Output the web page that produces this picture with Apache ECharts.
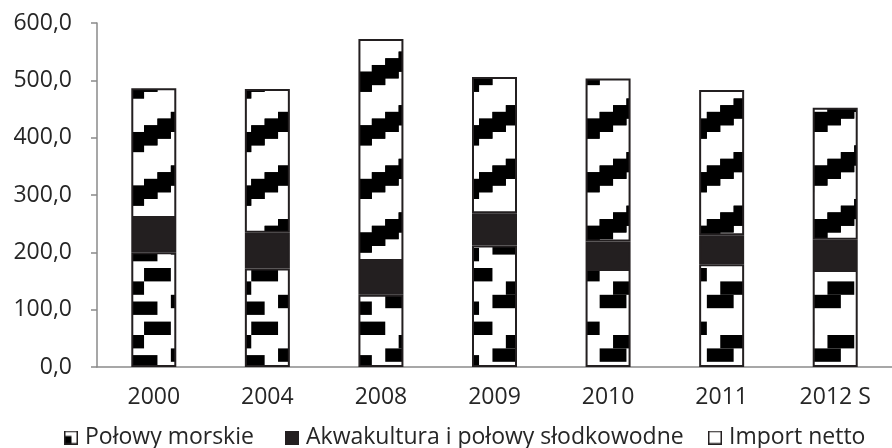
<!DOCTYPE html>
<html><head><meta charset="utf-8">
<script src="https://cdn.jsdelivr.net/npm/echarts@6/dist/echarts.min.js"></script>
<style>html,body{margin:0;padding:0;background:#fff}#c{width:892px;height:448px}</style>
</head><body><div id="c"></div>
<script>
const categories = ['2000','2004','2008','2009','2010','2011','2012 S'];
const polowyMorskie = [200, 172, 126, 212, 171, 179, 169];
const akwakultura = [60, 62, 59, 56, 48, 51, 53];
const importNetto = [226, 251, 387, 238, 284, 253, 230];
const yTickLabels = ['0,0','100,0','200,0','300,0','400,0','500,0','600,0'];
const seriesNames = ['Połowy morskie','Akwakultura i połowy słodkowodne','Import netto'];

const S = 6.7; // pattern pixel size
function makeTile(rects, ox, oy) {
  const c = document.createElement('canvas');
  c.width = 536; c.height = 536;
  const g = c.getContext('2d');
  g.fillStyle = '#fff'; g.fillRect(0,0,536,536);
  g.fillStyle = '#000';
  const TW = 16, TH = 8;
  for (let tx = -1; tx <= 5; tx++) {
    for (let ty = -1; ty <= 10; ty++) {
      rects.forEach(r => {
        g.fillRect((tx*TW + r[0] + ox)*S, (ty*TH + r[1] + oy)*S, r[2]*S, r[3]*S);
      });
    }
  }
  return c;
}
const brick = makeTile([[2,0,4,2],[-2,2,4,2],[8,2,4,2],[6,4,4,2],[0,5,4,2]], 3.5, 0);
const diagRects = [];
for (let k = 0; k < 8; k++) diagRects.push([6 - 2*k, k, 4, 2]);
const diag = makeTile(diagRects.concat(diagRects.map(r => [r[0]+16, r[1], r[2], r[3]])), 3.5, 0.7);

const border = '#231f20';
const axisColor = '#8a8a8a';
const font = '"Open Sans", sans-serif';
const textColor = '#262626';

function iconImage(kind) {
  const c = document.createElement('canvas');
  c.width = 28; c.height = 28;
  const g = c.getContext('2d');
  g.fillStyle = '#fff'; g.fillRect(0,0,28,28);
  if (kind === 1) { g.fillStyle = border; g.fillRect(0,0,28,28); }
  if (kind === 0) { g.fillStyle = '#000'; g.fillRect(2,11,13,15); }
  g.strokeStyle = border; g.lineWidth = 3;
  g.strokeRect(1.5,1.5,25,25);
  return 'image://' + c.toDataURL();
}

const legendLefts = [59, 280, 703];
const legends = seriesNames.map((n, i) => ({
  left: legendLefts[i], top: 421, itemWidth: 14, itemHeight: 14,
  icon: iconImage(i),
  textStyle: {fontFamily: font, fontSize: 23, color: textColor, padding: [0,0,0,2]},
  data: [n]
}));

const chart = echarts.init(document.getElementById('c'), null, {renderer:'canvas'});
chart.setOption({
  animation: false,
  backgroundColor: '#fff',
  grid: {left: 97, right: -8, top: 23, bottom: 81, containLabel: false},
  legend: legends,
  xAxis: {
    type: 'category', data: categories,
    axisLine: {lineStyle: {color: axisColor, width: 1.5}},
    axisTick: {length: 6, lineStyle: {color: axisColor, width: 1.5}},
    axisLabel: {fontFamily: font, fontSize: 23, color: textColor, margin: 19}
  },
  yAxis: {
    type: 'value', min: 0, max: 600, interval: 100,
    splitLine: {show: false},
    axisLine: {show: true, lineStyle: {color: axisColor, width: 1.5}},
    axisTick: {show: true, length: 6, lineStyle: {color: axisColor, width: 1.5}},
    axisLabel: {fontFamily: font, fontSize: 23, color: textColor, margin: 25,
      formatter: (v) => yTickLabels[Math.round(v/100)]}
  },
  series: [
    {name: seriesNames[0], type: 'bar', stack: 't', data: polowyMorskie, barWidth: 45,
     itemStyle: {color: {image: brick, repeat: 'repeat'}, borderColor: border, borderWidth: 2}},
    {name: seriesNames[1], type: 'bar', stack: 't', data: akwakultura, barWidth: 45,
     itemStyle: {color: border, borderColor: border, borderWidth: 2}},
    {name: seriesNames[2], type: 'bar', stack: 't', data: importNetto, barWidth: 45,
     itemStyle: {color: {image: diag, repeat: 'repeat'}, borderColor: border, borderWidth: 2}}
  ]
});
</script></body></html>
